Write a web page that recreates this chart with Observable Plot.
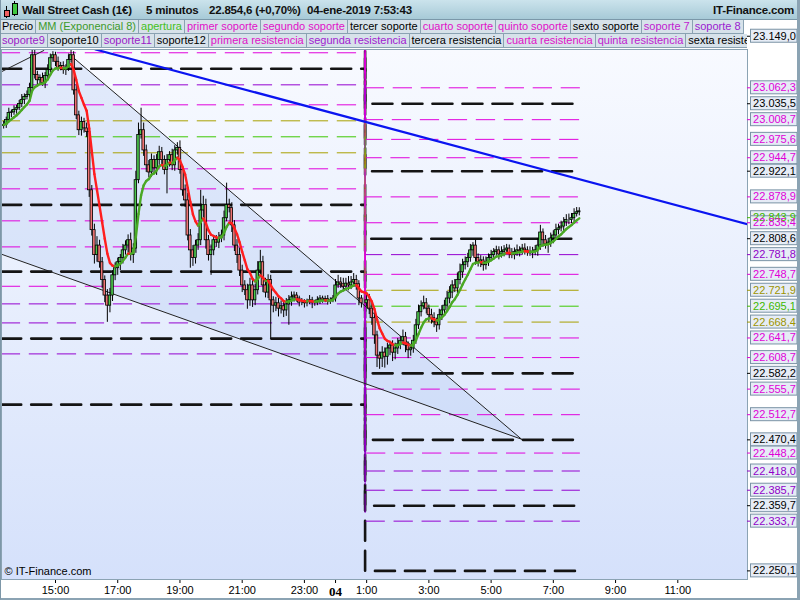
<!DOCTYPE html>
<html lang="es">
<head>
<meta charset="utf-8">
<title>Wall Street Cash (1€) 5 minutos</title>
<script src="https://cdn.jsdelivr.net/npm/d3@7"></script>
<script src="https://cdn.jsdelivr.net/npm/@observablehq/plot@0.6"></script>
<style>
html,body{margin:0;padding:0;background:#fff;}
#wrap{position:relative;width:800px;height:600px;overflow:hidden;background:#fff;font-family:"Liberation Sans",Arial,sans-serif;}
#chart{position:absolute;left:0;top:0;width:800px;height:600px;}
#title{position:absolute;left:0;top:0;width:800px;height:19px;background:linear-gradient(#cbe3ec,#a7cad7);border-bottom:1px solid #7b98a9;font-weight:bold;font-size:11.5px;letter-spacing:-0.2px;line-height:20px;color:#111;}
#title span{position:absolute;top:0;white-space:nowrap;}
.row{position:absolute;left:0;display:flex;font-size:11px;line-height:13px;height:14px;overflow:hidden;}
.cell{padding:0 2px;background:#d7e2ea;border-right:1px solid #8aa2b2;border-bottom:1px solid #8aa2b2;white-space:nowrap;height:13px;}
#border{position:absolute;left:0;top:0;width:800px;height:600px;box-sizing:border-box;border-left:1px solid #7d97a8;border-right:3px solid #8ba3b3;border-bottom:2px solid #8ba3b3;pointer-events:none;}
</style>
</head>
<body>
<div id="wrap">
  <div id="chart"></div>
  <div id="title">
    <span style="left:3px;top:1px"><svg width="16" height="17"><line x1="3.5" y1="5" x2="3.5" y2="17" stroke="#000"/><rect x="1.5" y="9.5" width="5" height="6" fill="#f06060" stroke="#000"/><line x1="11.5" y1="0" x2="11.5" y2="15" stroke="#000"/><rect x="9.5" y="2.5" width="5" height="11" fill="#40c840" stroke="#000"/></svg></span>
    <span id="h0" style="left:22px"></span>
    <span id="h1" style="left:146px"></span>
    <span id="h2" style="left:209px"></span>
    <span id="h3" style="left:307px"></span>
    <span id="h4" style="right:6px"></span>
  </div>
  <div class="row" id="row1" style="top:20px"></div>
  <div class="row" id="row2" style="top:34px;width:747px"></div>
  <div id="border"></div>
</div>
<script>
// ================= DATA =================
const headerText = ["Wall Street Cash (1€)", "5 minutos", "22.854,6 (+0,70%)", "04-ene-2019 7:53:43", "IT-Finance.com"];

const legendRow1 = ["Precio","MM (Exponencial 8)","apertura","primer soporte","segundo soporte","tercer soporte","cuarto soporte","quinto soporte","sexto soporte","soporte 7","soporte 8"];
const legendColors1 = ["#000","#3c9a2a","#44c020","#e010c8","#e010c8","#000","#e010c8","#e010c8","#000","#c020d0","#9a20d0"];
const legendRow2 = ["soporte9","soporte10","soporte11","soporte12","primera resistencia","segunda resistencia","tercera resistencia","cuarta resistencia","quinta resistencia","sexta resistencia"];
const legendColors2 = ["#9a20c8","#000","#9a20c8","#000","#e010c8","#a020d0","#000","#e010c8","#c020d0","#000"];

// time axis (hours since 03-ene 00:00)
const tickHours  = [15,17,19,21,23,24,25,27,29,31,33,35];
const tickLabels = ["15:00","17:00","19:00","21:00","23:00","04","1:00","3:00","5:00","7:00","9:00","11:00"];

// 5-minute candles
const session1Start = 13 + 20/60;   // 13:20
const session2Start = 25;           // 1:00 (04-ene)
const firstOpen = 22998;
const closes1 = [23000,23008,23020,23021,23025,23028,23035,23042,23047,23050,
 23062,23117,23084,23075,23079,23070,23082,23092,23112,23117,
 23106,23096,23099,23092,23096,23109,23117,23058,23016,22991,
 23005,22994,22988,22890,22823,22781,22797,22769,22739,22713,
 22696,22713,22747,22759,22769,22776,22789,22797,22806,22781,
 22792,22907,22983,22991,22957,22932,22920,22941,22927,22941,
 22954,22941,22924,22941,22949,22932,22957,22961,22924,22890,
 22873,22814,22789,22776,22797,22806,22856,22865,22806,22781,
 22789,22806,22802,22809,22814,22843,22865,22860,22831,22797,
 22781,22755,22730,22722,22705,22730,22705,22722,22755,22769,
 22730,22718,22739,22705,22696,22700,22691,22695,22688,22698,
 22705,22710,22713,22708,22701,22701,22700,22703,22705,22701,
 22701,22705,22708,22705,22707,22703,22705,22708,22730,22735,
 22732,22728,22733,22730,22735,22739,22732,22708,22700];
const wickUp1 = [6,5,8,4,7,5,6,9,5,7, 8,9,10,6,5,8,6,9,7,6, 5,8,6,7,5,9,8,6,10,7,
 8,6,9,12,8,10,15,9,8,7, 10,12,8,9,7,6,10,8,9,12, 8,15,20,37,12,9,8,10,7,9,
 10,8,7,9,6,10,8,9,12,8, 9,12,10,8,9,11,34,15,10,8, 9,7,8,10,9,12,37,10,9,8,
 10,12,9,8,10,12,8,10,15,20, 10,12,9,8,6,10,8,9,7,10, 8,9,6,5,4,7,5,4,8,5,
 4,6,5,4,5,6,4,5,10,12, 8,10,9,12,10,11,8,6,5];
const wickDn1 = [5,6,4,8,5,7,4,6,8,5, 6,4,7,8,6,5,9,6,5,7, 8,6,5,7,9,6,5,8,7,9,
 10,8,9,12,10,15,12,10,14,12, 28,12,10,9,12,14,10,8,12,10, 14,8,6,7,10,12,9,8,10,12,
 9,10,8,40,12,9,10,8,7,10, 12,9,30,14,10,8,9,12,15,10, 34,9,8,10,7,9,6,8,12,10,
 14,10,12,9,15,10,12,9,8,10, 12,9,10,64,12,10,14,9,12,10, 35,10,8,6,7,5,8,6,5,10,
 6,5,7,5,4,6,5,4,6,5, 7,8,6,9,7,8,10,12,8];
const closes2 = [22705,22691,22675,22646,22612,22607,22617,22610,22624,22629,
 22617,22624,22631,22637,22643,22629,22621,22624,22637,22663,
 22685,22695,22700,22691,22680,22675,22668,22663,22680,22688,
 22696,22708,22718,22730,22725,22739,22752,22764,22769,22776,
 22789,22797,22776,22769,22772,22764,22769,22776,22781,22786,
 22789,22782,22786,22789,22792,22784,22781,22786,22789,22787,
 22792,22789,22786,22784,22787,22789,22797,22819,22806,22799,
 22802,22809,22814,22823,22826,22829,22836,22840,22840,22843,
 22850,22853,22854.6];
const wickUp2 = [8,10,9,12,7,6,10,8,9,7, 8,9,10,7,12,8,6,7,9,10, 12,9,12,8,6,10,9,7,10,8,
 9,12,10,8,10,12,14,10,9,8, 10,5,9,7,8,6,9,7,8,6, 7,6,9,8,7,6,8,7,9,6,
 7,8,6,9,7,8,12,12,6,8, 7,9,8,10,7,9,8,9,10,8, 9,8,6];
const wickDn2 = [6,10,12,15,20,18,15,19,14,12, 15,12,10,9,8,12,14,10,8,6, 7,8,6,9,12,10,9,12,8,9,
 7,8,9,10,7,9,8,10,8,9, 7,10,12,8,9,10,8,7,6,8, 7,9,6,8,7,9,6,8,7,9,
 6,8,7,5,9,7,10,8,12,8, 15,8,9,7,8,6,9,7,8,6, 7,5,6];

// pivot levels: previous session (left) and current session (right)
const levelNames = ["R12","R11","R10","R9","R8","R7","R6","R5","R4","R3","R2","R1","O+","apertura","O-","S1","S2","S3","S4","S5","S6","S7","S8","S9","S10","S11","S12"];
const levelKinds = ["k","m","k","m","m","m","k","m","m","k","p","m","o","g","o","m","m","k","m","m","k","m","p","p","k","p","k"];
const levelPrev  = [23430.2,23344.9,23319.2,23292.8,23260.8,23231.2,23206.5,23165.0,23121.2,23094.3,23067.3,23033.7,23006.8,22979.9,22953.0,22926.1,22892.4,22865.5,22838.6,22794.8,22753.3,22728.6,22699.0,22667.0,22640.6,22614.9,22529.6];
const levelCurr  = [23149.0,23062.3,23035.5,23008.7,22975.6,22944.7,22922.1,22878.9,22835.4,22808.6,22781.8,22748.7,22721.9,22695.1,22668.4,22641.7,22608.7,22582.2,22555.7,22512.7,22470.4,22448.2,22418.0,22385.7,22359.7,22333.7,22250.1];
const levelSwitchHour = 24.95;
const levelEndHour = 31.84;
const emaLabelValue = 22843.9;

// drawn trend lines [hour, price]
const wedgeUpper = [[15.4275, 23119.5], [29.977, 22471.5]];
const wedgeLower = [[13.232, 22783.1], [29.977, 22471.5]];
const shortLine  = [[13.232, 23088.5], [14.624, 23125.0]];
const blueLine   = [[16.286, 23126.7], [37.24, 22832.7]];

// ================= STYLE =================
const lineColor = {k: "#141414", m: "#e000dc", p: "#9400d0", o: "#a8a000", g: "#3cc800"};
const textColor = {k: "#000", m: "#e000d8", p: "#9000c8", o: "#9c9400", g: "#40b800"};
const bullFill = "#4cc84c", bearFill = "#ee7474";
const emaUp = "#4aa824", emaDown = "#ff1e1e";

// ================= HEADER & LEGEND =================
headerText.forEach((t, i) => document.getElementById("h" + i).textContent = t);
function fillRow(id, labels, colors) {
  const row = document.getElementById(id);
  labels.forEach((l, i) => {
    const c = document.createElement("div");
    c.className = "cell"; c.textContent = l; c.style.color = colors[i];
    row.appendChild(c);
  });
}
fillRow("row1", legendRow1, legendColors1);
fillRow("row2", legendRow2, legendColors2);

// ================= BUILD =================
const W = 800, H = 600, mL = 1, mR = 53, mT = 49, mB = 21;
const xDom = [13.2645, 37.240];
const yDom = [22235.6, 23126.7];
const pxPerHour = (W - mR - mL) / (xDom[1] - xDom[0]);
const ptsPerPx = (yDom[1] - yDom[0]) / (H - mB - mT);
const tAtPx = px => xDom[0] + (px - mL) / pxPerHour;

const closes = closes1.concat(closes2);
const wUp = wickUp1.concat(wickUp2), wDn = wickDn1.concat(wickDn2);
const times = closes1.map((_, i) => session1Start + i * 5 / 60)
  .concat(closes2.map((_, j) => session2Start + j * 5 / 60));
const bars = closes.map((c, i) => {
  const o = i ? closes[i - 1] : firstOpen;
  return {t: times[i], open: o, close: c, high: Math.max(o, c) + wUp[i], low: Math.min(o, c) - wDn[i]};
});

// Exponential moving average (8)
const k = 2 / 9; let e = closes[0];
const ema = closes.map((c, i) => (e = i ? e + k * (c - e) : c));
const emaSegs = ema.slice(1).map((v, i) => ({t1: times[i], v1: ema[i], t2: times[i + 1], v2: v, color: v >= ema[i] ? emaUp : emaDown}));

const levelPts = levelNames.flatMap((name, i) => {
  const kind = levelKinds[i];
  return [[xDom[0] - 0.01, levelPrev[i]], [levelSwitchHour, levelPrev[i]], [levelSwitchHour, levelCurr[i]], [levelEndHour, levelCurr[i]]]
    .map(([t, p]) => ({name, t, p, kind, color: lineColor[kind]}));
});

const upSlope = (wedgeUpper[1][1] - wedgeUpper[0][1]) / (wedgeUpper[1][0] - wedgeUpper[0][0]);
const wedge = [
  {t: wedgeLower[0][0], lo: wedgeLower[0][1], hi: wedgeUpper[0][1] + upSlope * (wedgeLower[0][0] - wedgeUpper[0][0])},
  {t: wedgeLower[1][0], lo: wedgeLower[1][1], hi: wedgeUpper[1][1]}
];
const toPts = arr => arr.map(([t, p]) => ({t, p}));

const fmtES = d3.formatLocale({decimal: ",", thousands: ".", grouping: [3], currency: ["", "€"]}).format(",.1f");
const axisLabels = [{v: emaLabelValue, kind: "g"}].concat(levelCurr.map((v, i) => ({v, kind: levelKinds[i]})));
const boxHalf = 6.5 * ptsPerPx;
const hw = 1.25 / pxPerHour;

const chart = Plot.plot({
  width: W, height: H,
  marginTop: mT, marginRight: mR, marginBottom: mB, marginLeft: mL,
  style: {fontFamily: "'Liberation Sans', Arial, sans-serif", fontSize: "11px", background: "transparent", color: "#000", overflow: "visible"},
  x: {type: "linear", domain: xDom, ticks: tickHours, tickFormat: d => tickLabels[tickHours.indexOf(d)], tickSize: 4, tickPadding: 3, label: null},
  y: {domain: yDom, axis: null},
  color: {type: "identity"},
  marks: [
    Plot.frame({fill: "url(#bgGrad)", stroke: "none"}),
    Plot.areaY(wedge, {x: "t", y1: "lo", y2: "hi", fill: "#a9c2f2", fillOpacity: 0.28, clip: true}),
    Plot.line(levelPts.filter(d => d.kind === "k"), {x: "t", y: "p", z: "name", stroke: lineColor.k, strokeWidth: 2.6, strokeDasharray: "20,10", clip: true}),
    Plot.line(levelPts.filter(d => d.kind !== "k"), {x: "t", y: "p", z: "name", stroke: "color", strokeWidth: 1, strokeDasharray: "18.5,9.5", clip: true}),
    Plot.line(toPts(wedgeUpper), {x: "t", y: "p", stroke: "#222", strokeWidth: 1, clip: true}),
    Plot.line(toPts(wedgeLower), {x: "t", y: "p", stroke: "#222", strokeWidth: 1, clip: true}),
    Plot.line(toPts(shortLine), {x: "t", y: "p", stroke: "#222", strokeWidth: 1, clip: true}),
    Plot.ruleX(bars, {x: "t", y1: "low", y2: "high", stroke: "#000", strokeWidth: 1, clip: true}),
    Plot.rect(bars, {x1: d => d.t - hw, x2: d => d.t + hw, y1: "open", y2: "close", fill: d => d.close >= d.open ? bullFill : bearFill, stroke: "#000", strokeWidth: 0.8, clip: true}),
    Plot.link(emaSegs, {x1: "t1", y1: "v1", x2: "t2", y2: "v2", stroke: "color", strokeWidth: 2.4, strokeLinecap: "round", clip: true}),
    Plot.line(toPts(blueLine), {x: "t", y: "p", stroke: "#0a14f0", strokeWidth: 2.2, clip: true}),
    Plot.frame({stroke: "#8ba3b3"}),
    Plot.text(["© IT-Finance.com"], {frameAnchor: "bottom-left", dx: 3, dy: -5, textAnchor: "start", fontSize: 11, fill: "#000"}),
    Plot.link(axisLabels, {x1: tAtPx(746.5), x2: tAtPx(751), y1: "v", y2: "v", stroke: d => textColor[d.kind], strokeWidth: 1}),
    Plot.rect(axisLabels, {x1: tAtPx(750.5), x2: tAtPx(797), y1: d => d.v - boxHalf, y2: d => d.v + boxHalf, fill: "#e6ecf6", stroke: "#7a93a5", strokeWidth: 1}),
    Plot.text(axisLabels, {x: tAtPx(774), y: "v", text: d => fmtES(d.v), fill: d => textColor[d.kind], fontSize: 11})
  ]
});

const svg = d3.select(chart);
svg.insert("defs", ":first-child").html('<linearGradient id="bgGrad" x1="0" y1="0" x2="0" y2="1"><stop offset="0" stop-color="#f8faff"/><stop offset="1" stop-color="#d5e1fb"/></linearGradient>');
svg.selectAll("text").filter(function () { return this.textContent === "04"; })
  .attr("font-weight", "bold").attr("font-size", "13px").attr("font-family", "'Liberation Serif', serif");
document.getElementById("chart").appendChild(chart);
</script>
</body>
</html>
